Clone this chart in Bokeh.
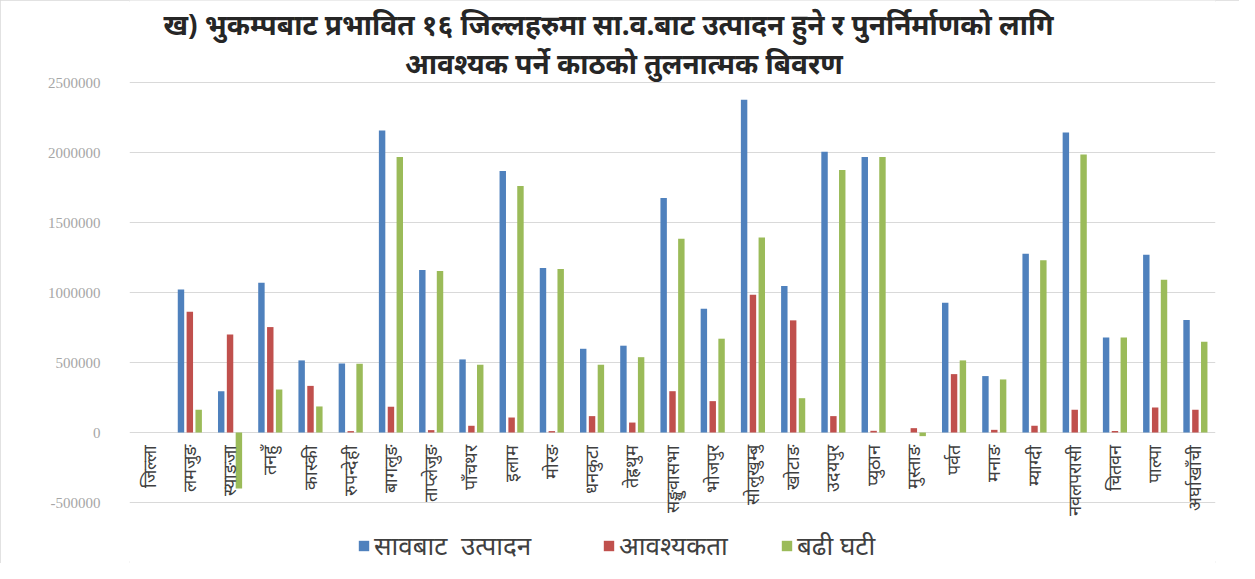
import math
from bokeh.plotting import figure
from bokeh.models import (FactorRange, Range1d, ColumnDataSource, LabelSet, Legend,
                          LegendItem, FixedTicker, Label, NumeralTickFormatter)
from bokeh.transform import dodge
from bokeh.embed import file_html
from bokeh.resources import INLINE

NAN = float("nan")

districts = ["जिल्ला", "लमजुङ", "स्याङजा", "तनहुँ", "कास्की", "रुपन्देही", "बागलुङ",
             "ताप्लेजुङ", "पाँचथर", "इलाम", "मोरङ", "धनकुटा", "तेह्रथुम", "सङ्खुवासभा",
             "भोजपुर", "सोलुखुम्बु", "खोटाङ", "उदयपुर", "प्युठान", "मुस्ताङ", "पर्वत",
             "मनाङ", "म्याग्दी", "नवलपरासी", "चितवन", "पाल्पा", "अर्घाखाँची"]

production = [NAN, 1022000, 295000, 1070000, 515000, 493000, 2157000,
              1160000, 522000, 1868000, 1175000, 598000, 620000, 1675000,
              884000, 2376000, 1046000, 2006000, 1968000, 0, 927000,
              403000, 1277000, 2142000, 679000, 1270000, 803000]

requirement = [NAN, 862000, 700000, 753000, 333000, 10000, 184000,
               17000, 48000, 107000, 10000, 117000, 71000, 295000,
               224000, 984000, 801000, 117000, 12000, 31000, 417000,
               19000, 48000, 162000, 10000, 179000, 162000]

difference = [NAN, 162000, -400000, 307000, 186000, 491000, 1968000,
              1153000, 484000, 1761000, 1168000, 484000, 538000, 1384000,
              670000, 1392000, 245000, 1875000, 1968000, -26000, 515000,
              379000, 1230000, 1985000, 679000, 1091000, 648000]

y_ticks = [-500000, 0, 500000, 1000000, 1500000, 2000000, 2500000]

title_line1 = "ख) भुकम्पबाट प्रभावित १६ जिल्लहरुमा सा.व.बाट उत्पादन हुने र पुनर्निर्माणको लागि"
title_line2 = "आवश्यक पर्ने  काठको तुलनात्मक बिवरण"
series_names = ["सावबाट  उत्पादन", "आवश्यकता", "बढी घटी"]
colors = ["#4f81bd", "#c0504d", "#9bbb59"]

DEV = "Noto Sans"

# layout (pixels): frame spans full figure height; gridline step 500000 = 70px
W, H = 1239, 563
LEFT, RIGHT = 129, 24
PX = 500000 / 70.0
TOP_PAD, BOTTOM_PAD = 82, 61
y_start = y_ticks[0] - BOTTOM_PAD * PX
y_end = y_ticks[-1] + TOP_PAD * PX

source = ColumnDataSource(dict(district=districts, production=production,
                               requirement=requirement, difference=difference,
                               zero=[0] * len(districts)))

p = figure(width=W, height=H, x_range=FactorRange(factors=districts, range_padding=0),
           y_range=Range1d(y_start, y_end), output_backend="svg",
           toolbar_location=None, x_axis_location=None, title=None,
           min_border_left=LEFT, min_border_right=RIGHT,
           min_border_bottom=0, min_border_top=0)
p.styles = {"outline": "2px solid #d9d9d9", "outline-offset": "-2px"}

p.outline_line_color = None
p.xgrid.grid_line_color = None
p.ygrid.grid_line_color = "#d9d9d9"
p.ygrid.ticker = FixedTicker(ticks=y_ticks)
p.yaxis.ticker = FixedTicker(ticks=y_ticks)
p.yaxis.formatter = NumeralTickFormatter(format="0")
p.yaxis.axis_line_color = None
p.yaxis.major_tick_line_color = None
p.yaxis.minor_tick_line_color = None
p.yaxis.major_label_text_color = "#a6a6a6"
p.yaxis.major_label_text_font = "Liberation Serif"
p.yaxis.major_label_text_font_size = "15px"
p.yaxis.major_label_standoff = 23

r1 = p.vbar(x=dodge("district", -0.22, range=p.x_range), top="production", width=0.16,
            source=source, fill_color=colors[0], line_color=None)
r2 = p.vbar(x=dodge("district", 0.0, range=p.x_range), top="requirement", width=0.16,
            source=source, fill_color=colors[1], line_color=None)
r3 = p.vbar(x=dodge("district", 0.22, range=p.x_range), top="difference", width=0.16,
            source=source, fill_color=colors[2], line_color=None)

labels = LabelSet(x="district", y="zero", text="district", source=source,
                  angle=math.pi / 2, text_align="right", text_baseline="middle",
                  y_offset=-12, text_font_size="18px", text_color="#404040",
                  text_font=DEV)
p.add_layout(labels)

legend_x = [228, 473, 651]
for name, rend, lx in zip(series_names, [r1, r2, r3], legend_x):
    lg = Legend(items=[LegendItem(label=name, renderers=[rend])],
                orientation="horizontal", location=(lx, 0),
                label_text_font_size="26px", label_text_color="#404040",
                label_text_font=DEV, glyph_width=13, glyph_height=13,
                label_standoff=4, border_line_color=None,
                background_fill_alpha=0, padding=0, margin=0)
    p.add_layout(lg)

t1 = Label(x=479, y=H - 23, x_units="screen", y_units="screen", text=title_line1,
           text_align="center", text_baseline="middle", text_font_size="28px",
           text_font=DEV, text_font_style="bold", text_color="#262626")
t2 = Label(x=498, y=H - 62, x_units="screen", y_units="screen", text=title_line2,
           text_align="center", text_baseline="middle", text_font_size="28px",
           text_font=DEV, text_font_style="bold", text_color="#262626")
p.add_layout(t1)
p.add_layout(t2)

open("out.html", "w").write(file_html(p, INLINE))
